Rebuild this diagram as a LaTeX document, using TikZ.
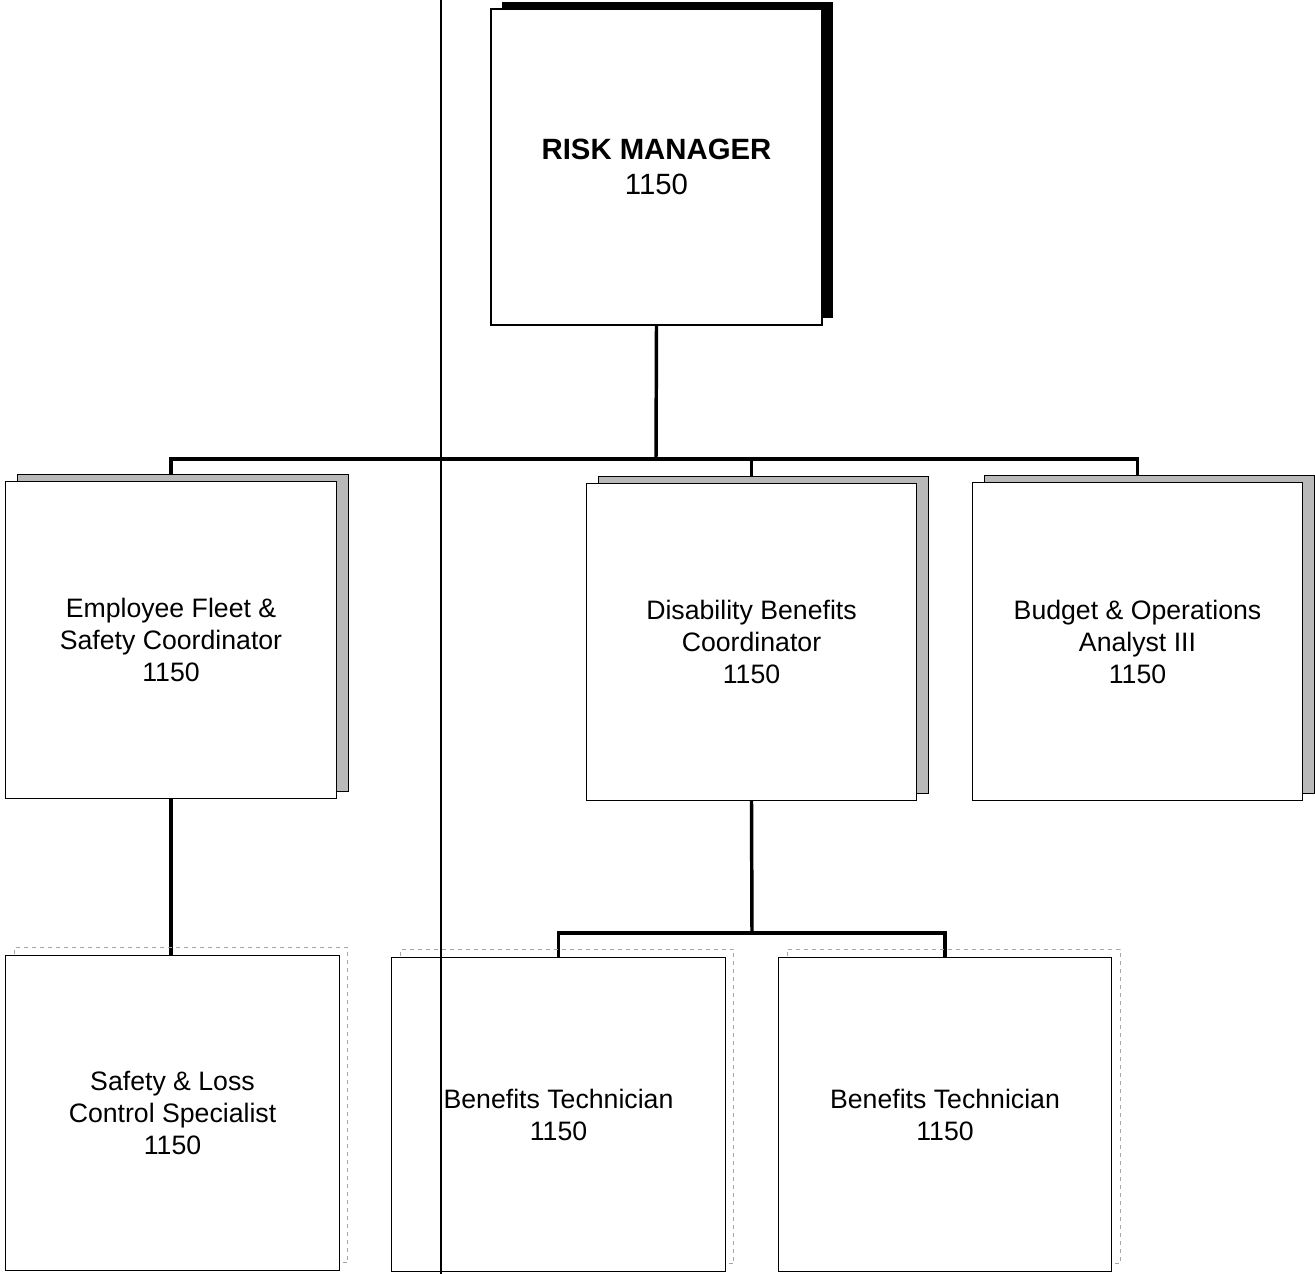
\documentclass[tikz,border=0pt]{standalone}
\usepackage{fontspec}
\setmainfont{Liberation Sans}
\usetikzlibrary{shadows,backgrounds}
\begin{document}
\begin{tikzpicture}[x=0.75pt,y=-0.75pt,
  box/.style={draw=black,line width=0.9pt,fill=white,inner sep=0pt,align=center,
    font=\fontsize{20pt}{24pt}\selectfont},
  topbox/.style={box,minimum width=248.25pt,minimum height=237pt,
    font=\fontsize{22pt}{26pt}\selectfont,
    general shadow={shadow xshift=8.25pt,shadow yshift=5.25pt,fill=black}},
  midbox/.style={box,minimum width=248pt,minimum height=238pt,
    general shadow={shadow xshift=9pt,shadow yshift=5.25pt,fill=gray!55,draw=black,line width=0.9pt}},
  lowbox/.style={box,minimum width=250pt,minimum height=236pt,
    general shadow={shadow xshift=6.5pt,shadow yshift=6pt,draw=gray!70,dashed,line width=0.6pt}},
  conn/.style={line width=2.6pt,line cap=rect,line join=miter},
  guide/.style={line width=0.9pt,black}]
\useasboundingbox (0,0) rectangle (1315,1274);

\node[topbox] (rm) at (656.5,167) {\textbf{RISK MANAGER}\\1150};

\node[midbox] (ef) at (171,640) {Employee Fleet \&\\Safety Coordinator\\1150};
\node[midbox] (db) at (751.5,642) {Disability Benefits\\Coordinator\\1150};
\node[midbox] (bo) at (1137.5,641.5) {Budget \& Operations\\Analyst III\\1150};

\node[lowbox] (sl) at (172.5,1113) {Safety \& Loss\\Control Specialist\\1150};
\node[lowbox] (bt1) at (558.5,1114.5) {Benefits Technician\\1150};
\node[lowbox] (bt2) at (945,1114.5) {Benefits Technician\\1150};

\coordinate (bus1) at (656,459);
\coordinate (bus2) at (752,933);
\coordinate (vt) at (441,0);
\coordinate (vb) at (441,1274);

\begin{scope}[on background layer]
\fill[white] (0,0) rectangle (1315,1274);
\draw[conn] (rm.south) -- (bus1);
\draw[conn] (ef.north) -- (ef.north |- bus1) -- (bo.north |- bus1) -- (bo.north);
\draw[conn] (db.north |- bus1) -- (db.north);
\draw[conn] (ef.south) -- (ef.south |- sl.north);
\draw[conn] (db.south) -- (bus2);
\draw[conn] (bt1.north) -- (bt1.north |- bus2) -- (bt2.north |- bus2) -- (bt2.north);
\end{scope}

\draw[guide] (vt) -- (vb);
\end{tikzpicture}
\end{document}
